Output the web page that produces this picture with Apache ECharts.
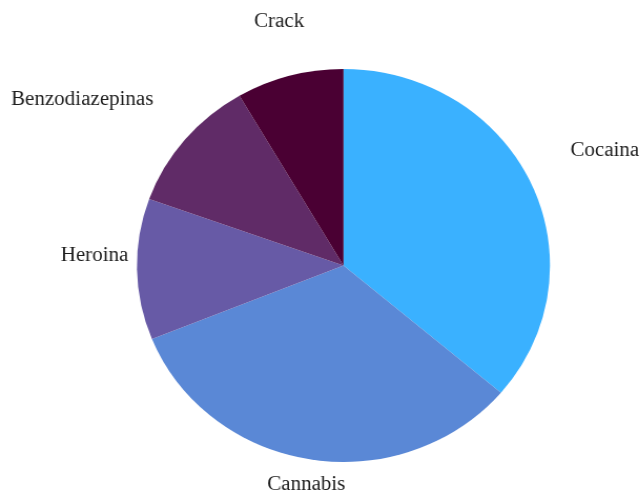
<!DOCTYPE html>
<html>
<head>
<meta charset="utf-8">
<script src="https://cdn.jsdelivr.net/npm/echarts@6/dist/echarts.min.js"></script>
<style>
  html, body { margin: 0; padding: 0; background: #ffffff; overflow: hidden; }
  #main { width: 611px; height: 493px; transform: scaleX(1.051); transform-origin: 0 0; }
</style>
</head>
<body>
<div id="main"></div>
<script>
// Data
const categories = ['Cocaina', 'Cannabis', 'Heroina', 'Benzodiazepinas', 'Crack'];
const values = [36.2, 32.7, 11.6, 11.1, 8.4];

// Styles
const colors = ['#3AB1FF', '#5A88D6', '#675AA6', '#602B67', '#4A0033'];
const labelDist = [274, 222, 237, 299, 251];      // label distance from centre (px)
const labelAngleOff = [0, 0, 3.5, -6, 1];          // small angular nudges (deg)
const cx = 326.8, cy = 265.5, radius = 196.5;

const total = values.reduce((a, b) => a + b, 0);
const midAngles = [];
let acc = 0;
values.forEach(v => {
  const a = v / total * 360;
  midAngles.push(acc + a / 2);
  acc += a;
});

const chart = echarts.init(document.getElementById('main'));
chart.setOption({
  animation: false,
  backgroundColor: '#ffffff',
  series: [{
    type: 'pie',
    center: [cx, cy],
    radius: radius,
    startAngle: 90,
    clockwise: true,
    avoidLabelOverlap: false,
    itemStyle: { borderWidth: 0 },
    label: {
      show: true,
      position: 'outside',
      formatter: '{b}',
      fontFamily: "'Liberation Serif', 'Times New Roman', serif",
      fontSize: 20,
      color: '#1e1e1e'
    },
    labelLine: { show: false },
    labelLayout: function (params) {
      const i = params.dataIndex;
      const ang = (midAngles[i] + labelAngleOff[i]) * Math.PI / 180;
      return {
        x: cx + Math.sin(ang) * labelDist[i],
        y: cy - Math.cos(ang) * labelDist[i],
        align: 'center',
        verticalAlign: 'middle'
      };
    },
    emphasis: { disabled: true },
    data: categories.map((c, i) => ({
      name: c,
      value: values[i],
      itemStyle: { color: colors[i] }
    }))
  }]
});
</script>
</body>
</html>
